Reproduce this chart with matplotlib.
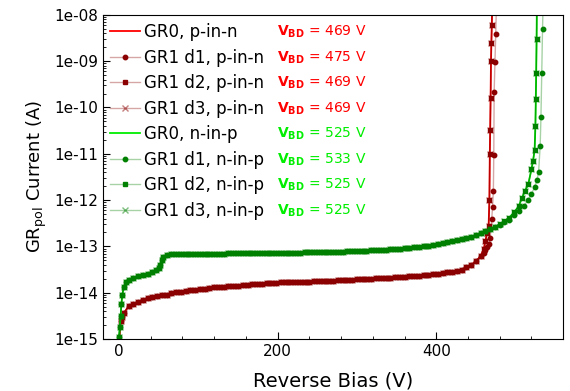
import matplotlib
matplotlib.use("Agg")
import matplotlib.pyplot as plt
from matplotlib.ticker import FuncFormatter, LogLocator, MultipleLocator, NullFormatter

# Reverse bias (V) and guard ring current (fA)
# p-in-n sensor
p_v = [0, 2, 4, 6, 12, 18, 24, 30, 36, 42,
       48, 54, 60, 66, 72, 78, 84, 90, 96, 102,
       108, 114, 120, 126, 132, 138, 144, 150, 156, 162,
       168, 174, 180, 186, 192, 198, 204, 210, 216, 222,
       228, 234, 240, 246, 252, 258, 264, 270, 276, 282,
       288, 294, 300, 306, 312, 318, 324, 330, 336, 342,
       348, 354, 360, 366, 372, 378, 384, 390, 396, 402,
       408, 414, 420, 426, 432, 438, 444, 450, 456, 460,
       462, 464, 466, 467, 467.5, 468, 468.5, 469, 469.5, 470,
       471]
p_gr0 = [0.8, 2.4, 3.0, 3.6, 5.1, 5.8, 6.3, 7.1, 7.6, 7.9,
         8.3, 8.7, 9.1, 9.8, 10.2, 10.5, 11.0, 11.5, 11.7, 12.0,
         12.3, 12.9, 13.2, 13.5, 13.5, 13.8, 14.1, 14.1, 14.5, 14.8,
         15.1, 15.1, 15.5, 15.8, 15.8, 16.2, 16.6, 16.6, 17.0, 17.0,
         17.4, 17.4, 17.4, 17.8, 17.8, 17.8, 18.2, 18.2, 18.6, 18.6,
         19.1, 19.1, 19.5, 19.5, 20.0, 20.0, 20.4, 20.4, 20.9, 20.9,
         21.4, 21.4, 21.9, 22.4, 22.9, 23.4, 24.0, 24.5, 25.1, 25.7,
         26.3, 27.5, 28.5, 29.5, 31.6, 35.5, 39.8, 47.9, 61.7, 89,
         132, 191, 275, 1000, 1e4, 3.2e4, 1.6e5, 1e6, 2.5e6, 6e6,
         3e7]
p_d1_v = p_v[:79] + [460, 462, 464, 466, 468, 470, 471, 472, 472.5, 473,
                     474, 475, 476]
p_d1 = p_gr0[:79] + [72, 85, 95, 112, 155, 400, 720, 1600, 9300, 2.2e5,
                     9.5e5, 3.9e6, 2e7]

# n-in-p sensor
n_v = [0, 1, 2, 3, 4, 6, 9, 12, 18, 24,
       30, 36, 42, 46, 50, 52, 54, 56, 60, 66,
       72, 78, 84, 90, 96, 102, 108, 114, 120, 126,
       132, 138, 144, 150, 156, 162, 168, 174, 180, 186,
       192, 198, 204, 210, 216, 222, 228, 234, 240, 246,
       252, 258, 264, 270, 276, 282, 288, 294, 300, 306,
       312, 318, 324, 330, 336, 342, 348, 354, 360, 366,
       372, 378, 384, 390, 396, 402, 408, 414, 420, 426,
       432, 438, 444, 450, 456, 462, 468, 474, 480, 486,
       492, 498, 504,
       508, 512, 516, 520, 522, 524, 525, 525.5, 526, 526.5,
       527]
n_gr0 = [1.1, 1.8, 3.2, 5.6, 8.9, 13.2, 16.6, 18.6, 20.4, 22.4,
         24.0, 25.7, 28.2, 30.2, 33.9, 39.8, 50, 60, 66, 68,
         69, 69, 69, 69, 70, 70, 70, 70, 70, 70,
         70, 71, 71, 71, 71, 71, 71, 71, 72, 72,
         72, 72, 72, 73, 73, 73, 73, 74, 74, 74,
         75, 75, 76, 76, 77, 77, 78, 79, 79, 80,
         81, 82, 83, 84, 85, 86, 88, 89, 91, 93,
         95, 97, 100, 104, 108, 112, 117, 122, 128, 135,
         141, 150, 162, 175, 190, 210, 234, 265, 300, 350,
         420, 540, 740,
         1100, 1600, 2200, 4600, 7000, 1.2e4, 4e4, 1.5e5, 5.5e5, 3e6,
         3e7]
n_d1_v = n_v[:86] + [468, 474, 480, 486, 492, 498, 504, 510, 516, 520,
                     524, 527, 529, 531, 532, 533, 534, 535]
n_d1 = n_gr0[:86] + [234, 262, 295, 340, 380, 470, 590, 740, 1000, 1350,
                     1900, 2700, 4000, 1.45e4, 6.3e4, 5.5e5, 5e6, 3e7]

vbd_p = [469, 475, 469, 469]
vbd_n = [525, 533, 525, 525]

y_ticks = [1e-15, 1e-14, 1e-13, 1e-12, 1e-11, 1e-10, 1e-9, 1e-8]
x_ticks = [0, 200, 400]

fA = 1e-15

fig = plt.figure(figsize=(5.7, 3.91), dpi=100)
ax = fig.add_axes([0.181, 0.133, 0.807, 0.829])

red = "#ff0000"
dred = "#8b0000"
lime = "#00ee00"
dgreen = "#008000"
pale_r = (0.545, 0.0, 0.0, 0.35)
pale_g = (0.0, 0.5, 0.0, 0.35)

ax.plot(p_v, [i * fA for i in p_gr0], color=red, lw=1.3, label="GR0, p-in-n")
ax.plot(p_d1_v, [i * fA for i in p_d1], color=pale_r, lw=1, marker="o", ms=3.2,
        mfc=dred, mec=dred, label="GR1 d1, p-in-n")
ax.plot(p_v, [i * fA for i in p_gr0], color=pale_r, lw=1, marker="s", ms=3.2,
        mfc=dred, mec=dred, label="GR1 d2, p-in-n")
ax.plot(p_v, [i * fA for i in p_gr0], color=pale_r, lw=1, marker="x", ms=4,
        mec=(0.545, 0, 0, 0.5), label="GR1 d3, p-in-n")
ax.plot(n_v, [i * fA for i in n_gr0], color=lime, lw=1.3, label="GR0, n-in-p")
ax.plot(n_d1_v, [i * fA for i in n_d1], color=pale_g, lw=1, marker="o", ms=3.2,
        mfc=dgreen, mec=dgreen, label="GR1 d1, n-in-p")
ax.plot(n_v, [i * fA for i in n_gr0], color=pale_g, lw=1, marker="s", ms=3.2,
        mfc=dgreen, mec=dgreen, label="GR1 d2, n-in-p")
ax.plot(n_v, [i * fA for i in n_gr0], color=pale_g, lw=1, marker="x", ms=4,
        mec=(0, 0.5, 0, 0.5), label="GR1 d3, n-in-p")

ax.set_yscale("log")
ax.set_ylim(1e-15, 1e-8)
ax.set_xlim(-20, 560)

ax.set_yticks(y_ticks)
ax.yaxis.set_minor_locator(LogLocator(base=10, subs=range(2, 10), numticks=10))
ax.yaxis.set_major_formatter(FuncFormatter(lambda v, pos: f"{v:.0e}"))
ax.yaxis.set_minor_formatter(NullFormatter())
ax.set_xticks(x_ticks)
ax.xaxis.set_minor_locator(MultipleLocator(40))
ax.tick_params(which="both", direction="in", top=False, right=False, labelsize=11)
ax.tick_params(which="major", length=5)
ax.tick_params(which="minor", length=2.5)

ax.set_xlabel("Reverse Bias (V)", fontsize=14, labelpad=9)
ax.set_ylabel(r"GR$_{\rm pol}$ Current (A)", fontsize=13)

leg = ax.legend(loc="upper left", bbox_to_anchor=(0.0152, 0.974), frameon=False,
                fontsize=12, borderaxespad=0, borderpad=0, handlelength=1.8,
                handletextpad=0.25, labelspacing=0.45)

# breakdown voltages next to each legend row
fig.canvas.draw()
inv = ax.transAxes.inverted()
vals = [(v, red) for v in vbd_p] + [(v, lime) for v in vbd_n]
for txt, (v, c) in zip(leg.get_texts(), vals):
    bb = txt.get_window_extent()
    y = inv.transform((0, (bb.y0 + bb.y1) / 2))[1]
    ax.text(0.378, y, r"$\mathbf{V_{BD}}$ = " + f"{v} V", color=c, fontsize=10,
            va="center", ha="left", transform=ax.transAxes)

fig.savefig("out.png", dpi=100)
